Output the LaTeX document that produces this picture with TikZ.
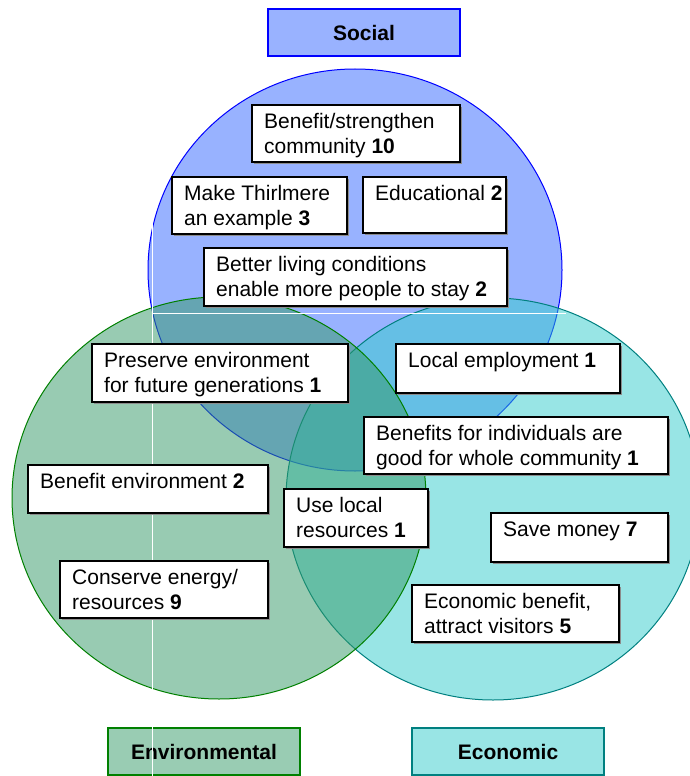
\documentclass[tikz,border=0pt]{standalone}
\usepackage{fontspec}
\setmainfont{Liberation Sans}
\usetikzlibrary{shadows}
\definecolor{socfull}{RGB}{51,102,255}
\definecolor{envfull}{RGB}{51,153,102}
\definecolor{ecofull}{RGB}{51,204,204}
\definecolor{socfill}{RGB}{153,178,255}
\definecolor{envfill}{RGB}{153,204,179}
\definecolor{ecofill}{RGB}{153,229,229}
\definecolor{socline}{RGB}{0,0,255}
\definecolor{envline}{RGB}{0,128,0}
\definecolor{ecoline}{RGB}{0,128,128}
\begin{document}
\begin{tikzpicture}[x=1pt,y=-1pt,
  setcircle/.style={line width=1pt, fill opacity=0.5, draw opacity=1},
  titlebox/.style={draw, line width=2pt, minimum width=192pt, minimum height=47pt, inner sep=0pt,
    anchor=north west, font=\fontsize{21}{25}\selectfont\bfseries},
  txtbox/.style={draw=black, fill=white, line width=2pt, inner sep=0pt, anchor=north west,
    drop shadow={shadow xshift=2pt, shadow yshift=-2pt, fill=black!45, opacity=1}},
  txt/.style={inner sep=0pt, anchor=base west, font=\fontsize{21}{25}\selectfont},
  artefact/.style={draw=white, line width=1pt}]
\useasboundingbox (0,0) rectangle (690,776);
\fill[white] (0,0) rectangle (690,776);
% circles
\path[setcircle, draw=socline, fill=socfull] (355,270) ellipse[x radius=207pt, y radius=201pt];
\path[setcircle, draw=ecoline, fill=ecofull] (493,499) ellipse[x radius=207pt, y radius=201pt];
\path[setcircle, draw=envline, fill=envfull] (219,498) ellipse[x radius=207pt, y radius=201pt];
% title boxes
\node[titlebox, draw=socline, fill=socfill] (social) at (267,8) {Social};
\node[titlebox, draw=envline, fill=envfill] (env) at (107,727) {Environmental};
\node[titlebox, draw=ecoline, fill=ecofill] (eco) at (411,727) {Economic};
% rendering artefact lines
\coordinate (va) at (152.5,0);
\coordinate (vb) at (152.5,776);
\coordinate (ha) at (152,313);
\coordinate (hb) at (566,313);
\draw[artefact] (va) -- (vb);
\draw[artefact] (ha) -- (hb);
% text boxes
\node[txtbox, minimum width=208pt, minimum height=57pt] (b1) at (251,104) {};
\node[txt] (t1) at ([shift={(13,24)}]b1.north west) {\parbox[t]{300pt}{Benefit/strengthen\\community \textbf{10}}};
\node[txtbox, minimum width=175pt, minimum height=57pt] (b2) at (171,176) {};
\node[txt] (t2) at ([shift={(13,24)}]b2.north west) {\parbox[t]{300pt}{Make Thirlmere\\an example \textbf{3}}};
\node[txtbox, minimum width=143pt, minimum height=56pt] (b3) at (362,176) {};
\node[txt] (t3) at ([shift={(13,24)}]b3.north west) {\parbox[t]{300pt}{Educational \textbf{2}}};
\node[txtbox, minimum width=303pt, minimum height=58pt] (b4) at (203,247) {};
\node[txt] (t4) at ([shift={(13,24)}]b4.north west) {\parbox[t]{300pt}{Better living conditions\\enable more people to stay \textbf{2}}};
\node[txtbox, minimum width=256pt, minimum height=58pt] (b5) at (91,343) {};
\node[txt] (t5) at ([shift={(13,24)}]b5.north west) {\parbox[t]{300pt}{Preserve environment\\for future generations \textbf{1}}};
\node[txtbox, minimum width=224pt, minimum height=49pt] (b6) at (395,343) {};
\node[txt] (t6) at ([shift={(13,24)}]b6.north west) {\parbox[t]{300pt}{Local employment \textbf{1}}};
\node[txtbox, minimum width=304pt, minimum height=57pt] (b7) at (363,416) {};
\node[txt] (t7) at ([shift={(13,24)}]b7.north west) {\parbox[t]{300pt}{Benefits for individuals are\\good for whole community \textbf{1}}};
\node[txtbox, minimum width=240pt, minimum height=48pt] (b8) at (27,464) {};
\node[txt] (t8) at ([shift={(13,24)}]b8.north west) {\parbox[t]{300pt}{Benefit environment \textbf{2}}};
\node[txtbox, minimum width=144pt, minimum height=58pt] (b9) at (283,488) {};
\node[txt] (t9) at ([shift={(13,24)}]b9.north west) {\parbox[t]{300pt}{Use local\\resources \textbf{1}}};
\node[txtbox, minimum width=208pt, minimum height=57pt] (b10) at (59,560) {};
\node[txt] (t10) at ([shift={(13,24)}]b10.north west) {\parbox[t]{300pt}{Conserve energy/\\resources \textbf{9}}};
\node[txtbox, minimum width=177pt, minimum height=49pt] (b11) at (490,512) {};
\node[txt] (t11) at ([shift={(13,24)}]b11.north west) {\parbox[t]{300pt}{Save money \textbf{7}}};
\node[txtbox, minimum width=207pt, minimum height=57pt] (b12) at (411,584) {};
\node[txt] (t12) at ([shift={(13,24)}]b12.north west) {\parbox[t]{300pt}{Economic benefit,\\attract visitors \textbf{5}}};
\end{tikzpicture}
\end{document}
